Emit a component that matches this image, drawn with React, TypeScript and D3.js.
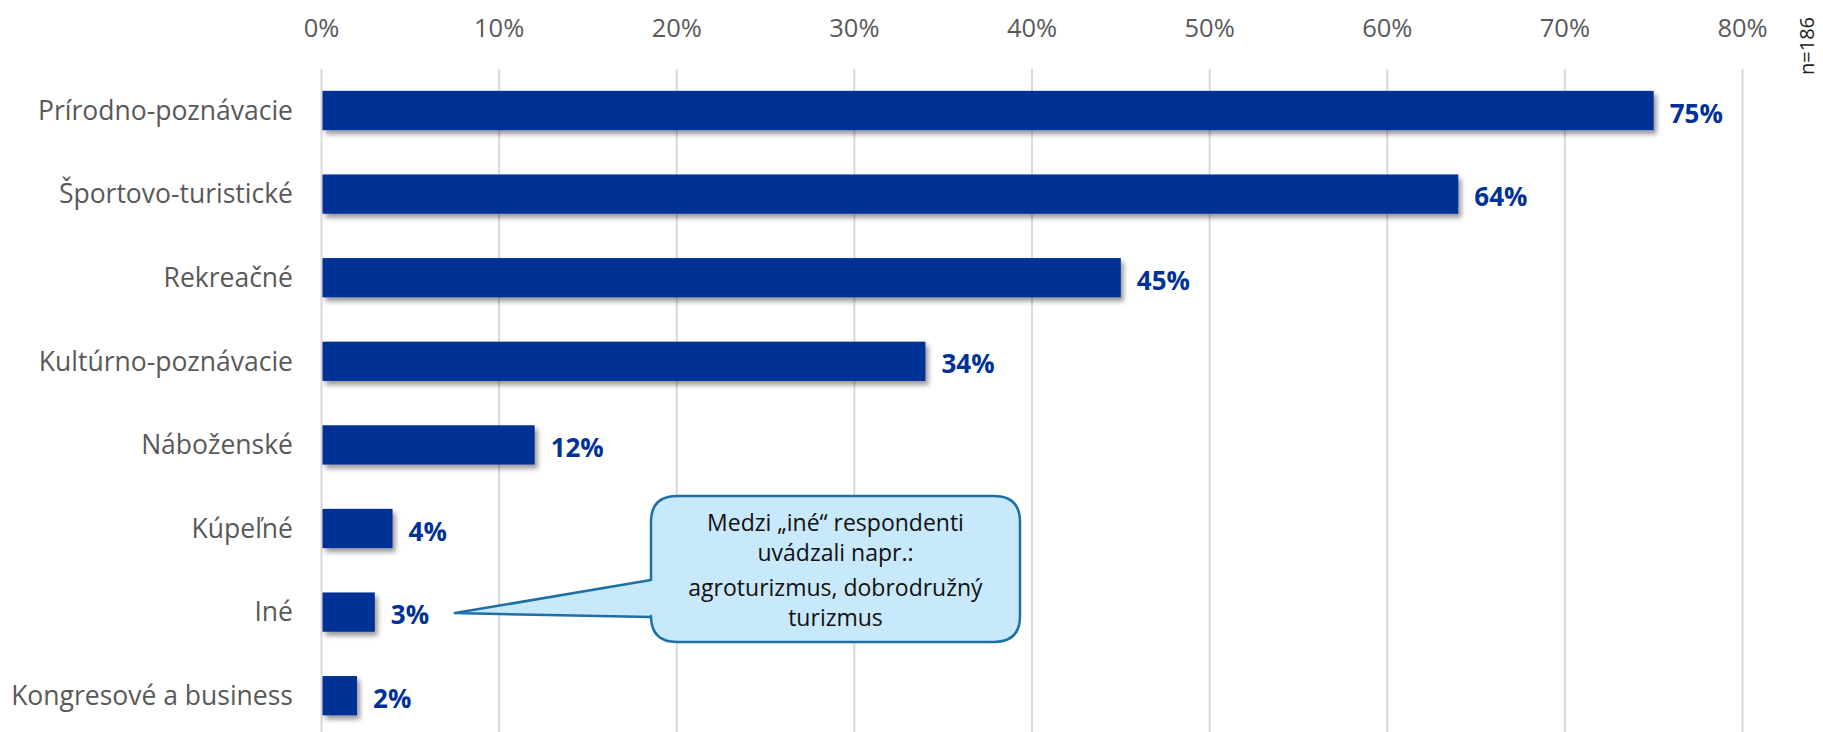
import React from "react";
import * as d3 from "d3";

const categories = [
  "Prírodno-poznávacie",
  "Športovo-turistické",
  "Rekreačné",
  "Kultúrno-poznávacie",
  "Náboženské",
  "Kúpeľné",
  "Iné",
  "Kongresové a business",
];
const values = [0.75, 0.64, 0.45, 0.34, 0.12, 0.04, 0.03, 0.02];
const valueLabels = ["75%", "64%", "45%", "34%", "12%", "4%", "3%", "2%"];
const ticks = [0, 0.1, 0.2, 0.3, 0.4, 0.5, 0.6, 0.7, 0.8];
const sampleNote = "n=186";
const calloutLines = [
  "Medzi „iné“ respondenti",
  "uvádzali napr.:",
  "agroturizmus, dobrodružný",
  "turizmus",
];
const calloutCategory = "Iné";

const W = 1823;
const H = 732;
const FONT = "'Open Sans', 'Noto Sans', sans-serif";
const BAR = "#003296";

export default function App() {
  const x = d3.scaleLinear().domain([0, 0.8]).range([321.5, 1742.5]);
  const y = d3
    .scaleBand<string>()
    .domain(categories)
    .range([68.7, 68.7 + 83.6 * categories.length])
    .paddingInner(0.53)
    .paddingOuter(0.265);
  const bw = y.bandwidth();

  // callout geometry
  const bx0 = 651, bx1 = 1020, by0 = 496, by1 = 642, r = 26;
  const ci = categories.indexOf(calloutCategory);
  const tipX = x(values[ci]) + 80;
  const tipY = (y(calloutCategory) as number) + bw / 2 + 1;
  const p1 = 580, p2 = 617;
  const path = [
    `M${bx0 + r},${by0}`,
    `H${bx1 - r}`,
    `Q${bx1},${by0} ${bx1},${by0 + r}`,
    `V${by1 - r}`,
    `Q${bx1},${by1} ${bx1 - r},${by1}`,
    `H${bx0 + r}`,
    `Q${bx0},${by1} ${bx0},${by1 - r}`,
    `V${p2}`,
    `L${tipX},${tipY}`,
    `L${bx0},${p1}`,
    `V${by0 + r}`,
    `Q${bx0},${by0} ${bx0 + r},${by0}`,
    "Z",
  ].join(" ");
  const cx = (bx0 + bx1) / 2;
  const lineY = [531, 561, 596, 626];

  return (
    <div style={{ position: "fixed", left: 0, top: 0, width: W, height: H, background: "#fff" }}>
      <svg width={W} height={H} style={{ display: "block" }}>
        <defs>
          <filter id="sh" x="-10%" y="-30%" width="130%" height="180%">
            <feDropShadow dx="3" dy="4" stdDeviation="2.5" floodColor="#000" floodOpacity="0.4" />
          </filter>
        </defs>
        {ticks.map((t) => (
          <g key={t}>
            <line x1={x(t)} x2={x(t)} y1={69} y2={H} stroke="#d9d9d9" strokeWidth={2} />
            <text
              x={x(t)}
              y={37}
              textAnchor="middle"
              fontFamily={FONT}
              fontSize={25.5}
              fill="#595959"
            >
              {d3.format(".0%")(t)}
            </text>
          </g>
        ))}
        {categories.map((c, i) => {
          const yy = y(c) as number;
          return (
            <g key={c}>
              <rect
                x={x(0) + 1}
                y={yy}
                width={x(values[i]) - x(0) - 1}
                height={bw}
                fill={BAR}
                filter="url(#sh)"
              />
              <text
                x={293}
                y={yy + bw / 2}
                dy="0.35em"
                textAnchor="end"
                fontFamily={FONT}
                fontSize={26.5}
                fill="#595959"
              >
                {c}
              </text>
              <text
                x={x(values[i]) + 16}
                y={yy + bw / 2 + 3}
                dy="0.35em"
                fontFamily={FONT}
                fontSize={26}
                fontWeight={700}
                fill={BAR}
              >
                {valueLabels[i]}
              </text>
            </g>
          );
        })}
        <text
          transform={`translate(1814,46) rotate(-90)`}
          textAnchor="middle"
          fontFamily={FONT}
          fontSize={20}
          fill="#222"
        >
          {sampleNote}
        </text>
        <path d={path} fill="#c8e8fc" stroke="#1d6fa5" strokeWidth={2.5} strokeLinejoin="round" />
        <text textAnchor="middle" fontFamily={FONT} fontSize={23} fill="#111">
          {calloutLines.map((l, i) => (
            <tspan key={l} x={cx} y={lineY[i]}>
              {l}
            </tspan>
          ))}
        </text>
      </svg>
    </div>
  );
}
